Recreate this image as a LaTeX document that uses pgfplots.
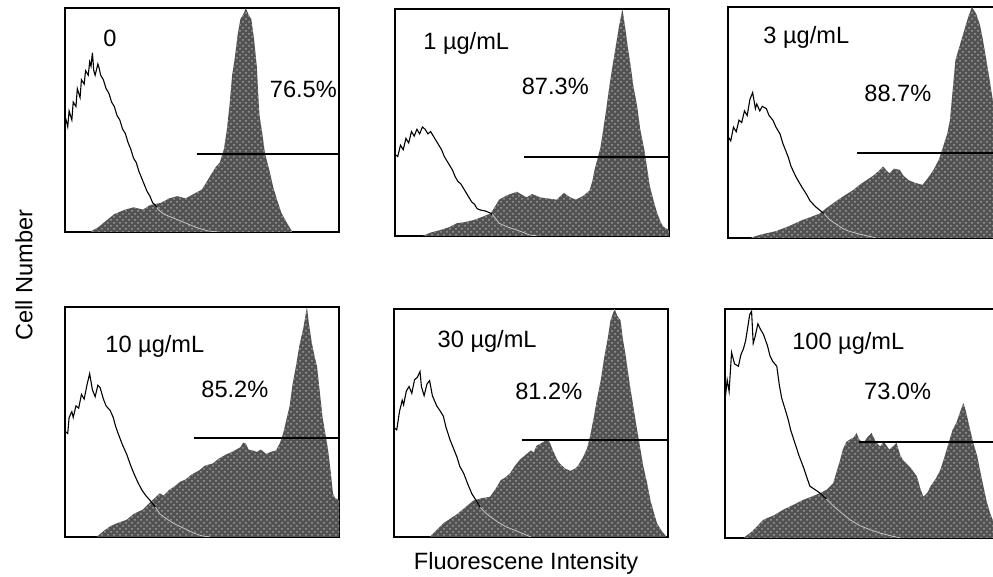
\documentclass[border=0pt]{standalone}
\usepackage{pgfplots}
\pgfplotsset{compat=1.18}
\usepackage{fontspec}
\setmainfont{Liberation Sans}
\usetikzlibrary{patterns}
\pgfplotsset{
  panel/.style={scale only axis, width=137pt, xmin=0, xmax=100, ymin=0, ymax=100,
    xtick=\empty, ytick=\empty, axis line style={line width=0.9pt},
    clip=true, anchor=north west},
  openh/.style={black, line width=0.55pt, mark=none},
  tailh/.style={black!25, line width=0.55pt, mark=none},
  filledh/.style={draw=none, fill=black!68, mark=none,
     postaction={pattern=crosshatch dots, pattern color=black!38}},
  gate/.style={black, line width=1pt, mark=none},
}
\begin{document}
\fontsize{11.8}{14}\selectfont
\begin{tikzpicture}[font=\fontsize{11.8}{14}\selectfont]
% ---------- Panel 1 : 0 ----------
\begin{axis}[panel, at={(32.5pt,-4pt)}, height=112pt]
\addplot[filledh] coordinates {(9,0) (12,2) (15,5) (18,8) (22,10) (25,11) (28.5,10) (31,12) (35,13) (38,15) (41,16) (44,15) (47,17) (50,19) (52,23) (53.5,26) (55,29) (56.5,31) (58,37) (59,45) (60,56) (61,70) (62,78) (63,88) (64,95) (65,97) (66,100) (67,97) (68,95) (69,86) (70,74) (70.5,62) (71,52) (72,44) (73,35) (74.5,28) (76,20) (77.5,14) (79,8.5) (81,4) (83,0)} \closedcycle;
\addplot[openh] coordinates {(0,0) (0,52) (1,47) (1.5,54) (2.5,50) (3,58) (4,56) (4.5,64) (5.5,60) (6,68) (7,66) (7.5,72) (8.5,70) (9,76) (9.5,74) (10,80) (10.5,72) (11,70) (12,75) (12.5,73) (13,70) (14,68) (15,64) (16,62) (17,58) (18,56) (19,52) (20,50) (21,46) (22,44) (23,40) (24,37) (25,33) (26,31) (27,27) (28,24) (29,21) (30,18) (31,16) (32,13) (33,12) (34,10) (36,8) (38,7) (40,6) (44,4) (48,2) (52,0.5) (56,0)};
\addplot[tailh] coordinates {(33.5,11) (34,10) (36,8) (38,7) (40,6) (44,4) (48,2) (52,0.5) (56,0)};
\addplot[gate] coordinates {(48,35) (100,35)};
\node at (axis cs:16.4,86.6) {0};
\node at (axis cs:87,63.5) {76.5\%};
\end{axis}
% ---------- Panel 2 : 1 ug/mL ----------
\begin{axis}[panel, at={(197.5pt,-4.5pt)}, height=113.5pt]
\addplot[filledh] coordinates {(10,0) (13,1.5) (16.5,2.6) (20,4) (22.5,5.6) (25,6) (28.7,7) (32,8.5) (35,10) (36.5,13) (38,16) (41,18) (44.5,19.5) (48,17) (50,18.5) (53,17) (56,16.5) (59,16) (61.6,19) (64,17) (66,16) (68.5,17.5) (71,20) (72,24) (73,30) (75,39) (76,47) (77,55) (78,64) (79,72) (80.5,83) (81.7,92) (83,100) (84,92) (85,83) (86,75) (87,66) (88.4,57) (89.5,47) (91,38) (92,30) (93,22) (94.5,15) (95.7,10) (97,6) (98,4) (100,2.6)} \closedcycle;
\addplot[openh] coordinates {(0,0) (0,36) (1,35) (2,40) (3,38) (4,43) (5,41) (6,46) (7,44) (8,47) (9,45) (10,48) (11,47) (12,45) (13,46) (14,44) (15,42) (16,40) (17,38) (18,35) (19,33) (20,31) (21,29) (22,26) (23,24) (24,23) (25,21) (26,19) (27,17) (28,15) (29,14) (30,12) (31,11.5) (33,11) (35,10) (36.5,8) (38,5.6) (41,4) (44.5,2.6) (47,1.5) (49,0.5) (52,0)};
\addplot[tailh] coordinates {(35.5,9.5) (36.5,8) (38,5.6) (41,4) (44.5,2.6) (47,1.5) (49,0.5) (52,0)};
\addplot[gate] coordinates {(47,35) (100,35)};
\node at (axis cs:26,85) {1 µg/mL};
\node at (axis cs:58.5,66) {87.3\%};
\end{axis}
% ---------- Panel 3 : 3 ug/mL ----------
\begin{axis}[panel, at={(364pt,-3.5pt)}, height=115.5pt]
\addplot[filledh] coordinates {(8,0) (12,1.5) (17.6,3) (22,5) (27,7.7) (30,9) (33.5,10.6) (36,13) (39.5,16) (42,18) (45.6,20.7) (48,23) (50.5,25) (53,27) (55,29) (56.6,31) (58,29) (59,28) (60.5,30) (62.7,29.5) (64,27) (66,25) (68,24) (71,23) (73,26) (75,29.5) (77,34) (78.5,39.5) (80,45) (81,51) (82,64) (83,77) (84.5,83) (86,89) (87.5,95) (89,100) (90.6,97) (92,92) (93,86) (94,79) (95,72) (96.6,60) (98,48) (100,38)} \closedcycle;
\addplot[openh] coordinates {(0,0) (0,44) (1,42) (2,48) (3,46) (4,51) (5,50) (6,55) (7,53) (8,60) (9,63) (10,56) (10.5,58) (11.6,55) (12.5,57) (14,56) (15,53) (16.4,51) (17.5,48) (19,45) (20,41) (21,38) (22,35) (23,31) (25,26) (27,22) (28.6,19) (30,16) (32,13.5) (33.5,12) (35,10.6) (37,8) (39.5,6) (42,4) (44,3) (47,2) (50.5,1) (54,0)};
\addplot[tailh] coordinates {(35,10.6) (37,8) (39.5,6) (42,4) (44,3) (47,2) (50.5,1) (54,0)};
\addplot[gate] coordinates {(47,37) (100,37)};
\node at (axis cs:28.6,87) {3 µg/mL};
\node at (axis cs:62,62.5) {88.7\%};
\end{axis}
% ---------- Panel 4 : 10 ug/mL ----------
\begin{axis}[panel, at={(32.5pt,-153.5pt)}, height=115pt]
\addplot[filledh] coordinates {(11.5,0) (14,2.5) (16.4,4.6) (19,6) (22.5,7.5) (25,10) (28.5,12) (31,15) (34.6,19) (36,18) (38,20.5) (40,22) (42,24) (44,25) (46,27) (49,29) (51,31) (54,32) (56,34) (59,36) (61,37) (62.5,38) (64,39) (65,41) (66,40.6) (67,38) (68.6,37.6) (70,37) (71.5,38) (73.5,36) (75,37) (77,37.6) (78.5,41) (79.6,45) (81,52) (82,57) (83,66) (84.4,75) (85.5,83) (87,91) (88.3,100) (89,93) (90,85) (91,79) (92,74) (93,63) (94,52) (95,45) (96,38) (97,28) (97.8,19) (98.5,17) (100,16)} \closedcycle;
\addplot[openh] coordinates {(0,0) (0,46) (1,45) (1.5,52) (2.5,54.5) (3,52) (4,57) (5,56) (6,62) (7,60) (8,66) (9,71) (10,64) (11,61) (12,66) (12.8,65) (14,60) (15,57) (16.5,55) (17.6,52) (18.5,48) (19.4,45) (21,40) (22.5,36) (24,31) (25,28) (26.5,24) (28,20.5) (29.5,18) (31,16) (33,13) (34.6,10) (37,8) (39.5,6) (43,4) (47,1.7) (50,0.5) (53,0)};
\addplot[tailh] coordinates {(33,13) (34.6,10) (37,8) (39.5,6) (43,4) (47,1.7) (50,0.5) (53,0)};
\addplot[gate] coordinates {(47,43) (100,43)};
\node at (axis cs:32.8,83) {10 µg/mL};
\node at (axis cs:62,64) {85.2\%};
\end{axis}
% ---------- Panel 5 : 30 ug/mL ----------
\begin{axis}[panel, at={(197pt,-154.5pt)}, height=114pt]
\addplot[filledh] coordinates {(13,0) (15.5,3) (18,6) (20.5,8) (23,10) (26,13) (29,16) (32,17) (35,17.6) (37,21) (39,25) (40.5,26) (42.4,28) (44,31) (46,34) (48,36) (50,38) (51,37) (52,40) (53.5,41) (55,42) (56,43) (57,41) (58,38) (59.5,34) (60.7,32) (62.5,30) (64.4,29) (66,30) (67,31) (68,33) (69,35) (70.5,39) (71.7,45) (73,53) (74,60) (75.5,69) (76.6,78) (78,87) (79,95) (80.5,100) (81.5,97) (82.7,95) (83.5,87) (84.5,80) (86,67.4) (87.5,56) (89,45) (90,38) (91,31) (92.5,23) (93.6,16) (95,10) (96,6) (97.5,3) (98.5,1.5) (99.5,0)} \closedcycle;
\addplot[openh] coordinates {(0,0) (0,48) (1,47) (2,55) (3,60) (3.5,58) (4.5,64) (5.5,66) (6.5,63) (7.5,69) (8.5,70) (9.5,72.6) (10,66) (11,62) (12,67) (13,68.6) (14,62) (15.6,57.5) (17,55) (18,53) (19,48) (20.5,42.5) (22,38) (23,35) (24,31) (25.4,28) (27,23) (28.4,19) (30,16) (31.5,13) (33,11) (35,9) (38,6.5) (41,4.4) (44,3) (47,1.5) (50,0)};
\addplot[tailh] coordinates {(31.5,13) (33,11) (35,9) (38,6.5) (41,4.4) (44,3) (47,1.5) (50,0)};
\addplot[gate] coordinates {(46.7,42.5) (99.5,42.5)};
\node at (axis cs:34,86) {30 µg/mL};
\node at (axis cs:56.5,64) {81.2\%};
\end{axis}
% ---------- Panel 6 : 100 ug/mL ----------
\begin{axis}[panel, at={(362.5pt,-154.5pt)}, height=114.5pt]
\addplot[filledh] coordinates {(6.7,0) (10,3) (14,8) (18,10) (21.3,12.4) (25,14.5) (28.6,16.7) (31.5,18) (34.7,19.6) (37,21) (39.5,24) (41,30) (42,34) (43,38.6) (44.3,42) (45.6,43) (47,44) (48,45.9) (49,43) (50.5,41.5) (52,44) (53.5,45.9) (55,42) (56.6,40) (58,42) (60,38.6) (61.3,40) (62.6,41.5) (64,36) (65,34) (67.5,31) (70,27) (71.2,22) (72.4,18) (74,20) (75,22.6) (77,26) (78.5,29.5) (80,35) (82,43) (83,47) (84.5,50.5) (85.5,54) (87,59) (88,55) (89.4,47.6) (90.5,42) (92,36) (93,30) (94.3,22.6) (95.5,16) (96.7,11) (98,7) (100,4)} \closedcycle;
\addplot[openh] coordinates {(0,0) (0,60) (0.8,69) (1.5,64) (2.4,81) (3.5,76) (4.9,75) (5.8,80) (6.7,82.5) (7.5,86) (8.3,92) (9,97.5) (9.7,99) (10.3,85) (11,88) (12,93.5) (13,91) (14,89) (14.6,87) (15.5,84) (16.4,79.6) (17.5,77) (18.9,75) (19.8,67) (20.7,61) (22,56) (23,52) (24,47) (25.5,41.5) (27,36) (28.6,31) (30,26) (31,22.6) (33,21) (34.7,19.6) (37,17) (39.5,14) (42.5,11) (45.6,8) (49,5.5) (53,3.6) (57,2) (61.4,0.7) (64,0)};
\addplot[tailh] coordinates {(37,17) (39.5,14) (42.5,11) (45.6,8) (49,5.5) (53,3.6) (57,2) (61.4,0.7) (64,0)};
\addplot[gate] coordinates {(49,41.8) (100,41.8)};
\node at (axis cs:45,85) {100 µg/mL};
\node at (axis cs:63,64) {73.0\%};
\end{axis}
% ---------- axis titles ----------
\node[rotate=90] at (12pt,-137.5pt) {Cell Number};
\node at (263pt,-281.5pt) {Fluorescene Intensity};
\pgfresetboundingbox
\path[use as bounding box] (0pt,0pt) rectangle (496.5pt,-288.5pt);
\end{tikzpicture}
\end{document}
